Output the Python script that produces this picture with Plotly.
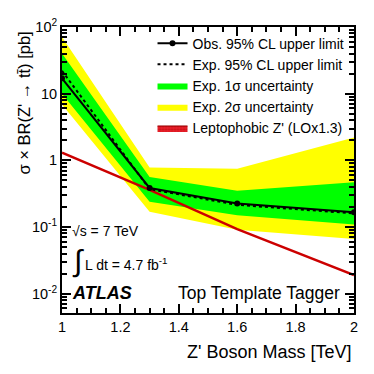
import plotly.graph_objects as go

mass = [1.0, 1.3, 1.6, 2.0]
obs_limit = [17.0, 0.385, 0.225, 0.166]
exp_limit = [22.0, 0.37, 0.215, 0.16]
exp_1s_up = [40.0, 0.56, 0.35, 0.47]
exp_1s_dn = [10.0, 0.24, 0.15, 0.109]
exp_2s_up = [71.0, 0.78, 0.745, 2.2]
exp_2s_dn = [6.9, 0.17, 0.091, 0.066]
lepto_xsec = [1.3, 0.36, 0.093, 0.019]

y_tickvals = [0.01, 0.1, 1, 10, 100]
y_ticktext = ["10<sup>-2</sup>", "10<sup>-1</sup>", "1", "10", "10<sup>2</sup>"]
x_tickvals = [1.0, 1.2, 1.4, 1.6, 1.8, 2.0]
x_ticktext = ["1", "1.2", "1.4", "1.6", "1.8", "2"]

FONT = "Liberation Sans, Arial, sans-serif"

fig = go.Figure()

# bands: upper edge then lower edge reversed
fig.add_trace(go.Scatter(
    x=mass + mass[::-1], y=exp_2s_up + exp_2s_dn[::-1],
    fill="toself", fillcolor="#ffff00", line=dict(width=0),
    mode="lines", name="Exp. 2σ uncertainty", legendrank=4, hoverinfo="skip"
))
fig.add_trace(go.Scatter(
    x=mass + mass[::-1], y=exp_1s_up + exp_1s_dn[::-1],
    fill="toself", fillcolor="#00ff00", line=dict(width=0),
    mode="lines", name="Exp. 1σ uncertainty", legendrank=3, hoverinfo="skip"
))
fig.add_trace(go.Scatter(
    x=mass, y=lepto_xsec, mode="lines",
    line=dict(color="#cc0000", width=2.5), showlegend=False
))
# legend entry for the theory curve (hatched red box)
fig.add_trace(go.Scatter(
    x=[None], y=[None], mode="lines", fill="toself",
    fillcolor="#e8202a", line=dict(color="#990000", width=1),
    fillpattern=dict(shape=".", fgcolor="#aa0000", bgcolor="#e8202a", size=3, solidity=0.4),
    name="Leptophobic Z' (LOx1.3)", legendrank=5
))
fig.add_trace(go.Scatter(
    x=mass, y=exp_limit, mode="lines",
    line=dict(color="black", width=2, dash="dot"),
    name="Exp. 95% CL upper limit", legendrank=2
))
fig.add_trace(go.Scatter(
    x=mass, y=obs_limit, mode="lines+markers",
    line=dict(color="black", width=2), marker=dict(color="black", size=6),
    name="Obs. 95% CL upper limit", legendrank=1
))

minor_y = [k * 10.0 ** e for e in range(-3, 2) for k in range(2, 10)]

fig.update_xaxes(
    range=[1.0, 2.0], tickvals=x_tickvals, ticktext=x_ticktext,
    ticks="inside", ticklen=9, tickwidth=1.5, tickcolor="black",
    minor=dict(ticks="inside", ticklen=5, dtick=0.05, tick0=1.0, tickcolor="black", tickwidth=1.5),
    showline=True, linewidth=2, linecolor="black", mirror="allticks",
    showgrid=False, zeroline=False,
    tickfont=dict(family=FONT, size=14.5, color="black")
)
fig.update_yaxes(
    type="log", range=[-2.29, 2.0], tickvals=y_tickvals, ticktext=y_ticktext,
    ticks="inside", ticklen=9, tickwidth=1.5, tickcolor="black",
    minor=dict(ticks="inside", ticklen=5, tickvals=minor_y, tickcolor="black", tickwidth=1.5),
    showline=True, linewidth=2, linecolor="black", mirror="allticks",
    showgrid=False, zeroline=False,
    tickfont=dict(family=FONT, size=14.5, color="black")
)

ann = [
    dict(text="σ × BR(Z' → tt̄) [pb]", x=-0.13, y=0.99, xanchor="center", yanchor="top",
         textangle=-90, font=dict(size=16.5)),
    dict(text="Z' Boson Mass [TeV]", x=1.0, y=-0.138, xanchor="right", yanchor="middle",
         font=dict(size=18)),
    dict(text="√s = 7 TeV", x=0.028, y=0.287, xanchor="left", yanchor="middle",
         font=dict(size=14)),
    dict(text="∫", x=0.026, y=0.182, xanchor="left", yanchor="middle",
         font=dict(size=30)),
    dict(text="L dt = 4.7 fb<sup>-1</sup>", x=0.072, y=0.172, xanchor="left", yanchor="middle",
         font=dict(size=14)),
    dict(text="<b><i>ATLAS</i></b>", x=0.028, y=0.071, xanchor="left", yanchor="middle",
         font=dict(size=18)),
    dict(text="Top Template Tagger", x=0.39, y=0.071, xanchor="left", yanchor="middle",
         font=dict(size=17.5)),
]
for a in ann:
    a.update(xref="paper", yref="paper", showarrow=False)
    a["font"].update(family=FONT, color="black")
    fig.add_annotation(**a)

# the page body adds an 8px margin, so the figure is sized to fit inside it
fig.update_layout(
    width=366, height=366,
    margin=dict(l=54, r=20, t=9, b=61),
    paper_bgcolor="white", plot_bgcolor="white",
    showlegend=True,
    legend=dict(x=0.31, y=0.998, xanchor="left", yanchor="top",
                bgcolor="rgba(0,0,0,0)", borderwidth=0, tracegroupgap=0,
                font=dict(family=FONT, size=14, color="black")),
    font=dict(family=FONT, color="black"),
)

fig.write_html("out.html")
